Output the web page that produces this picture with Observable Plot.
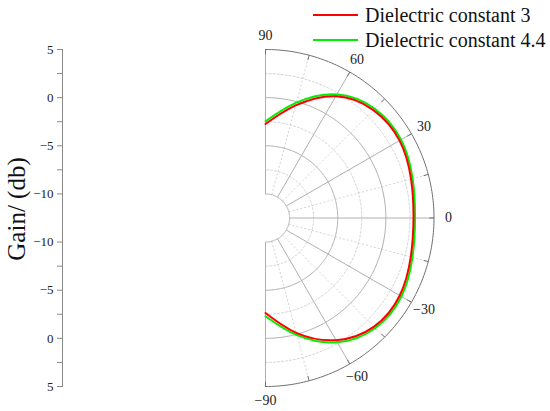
<!DOCTYPE html>
<html><head><meta charset="utf-8">
<script src="https://cdn.jsdelivr.net/npm/d3@7"></script>
<script src="https://cdn.jsdelivr.net/npm/@observablehq/plot@0.6"></script>
<style>
body{margin:0;background:#fff}
#wrap{position:relative;width:550px;height:411px;font-family:"Liberation Serif","Times New Roman",serif}
.leg{position:absolute;left:313px;display:flex;align-items:center;font-size:20px;color:#111;white-space:nowrap}
.leg span.sw{display:inline-block;width:45px;height:2px;margin-right:7px}
</style>
</head><body><div id="wrap"></div>
<script>
// ---- data ----
const angles = [-90, -75, -60, -45, -30, -15, 0, 15, 30, 45, 60, 75, 90];
const gainEps3 = [-2.63, -0.15, 2.15, 3.45, 3.6, 3.12, 2.87, 3.15, 3.58, 3.35, 2.11, -0.4, -2.74];
const gainEps44 = [-2.3, 0.1, 2.4, 3.65, 3.8, 3.3, 3.03, 3.32, 3.76, 3.55, 2.32, -0.1, -2.45];
const seriesNames = ["Dielectric constant 3", "Dielectric constant 4.4"];
const seriesColors = ["#ff0000", "#00ee00"];
const gainTicks = [5, 2.5, 0, -2.5, -5, -7.5, -10];
const gainMajor = [5, 0, -5, -10];
const angleTicks = [-90, -75, -60, -45, -30, -15, 0, 15, 30, 45, 60, 75, 90];
const angleLabels = [-90, -60, -30, 0, 30, 60, 90];
const axisTitle = "Gain/ (db)";

// radial mapping: gain -> radius units (gain -12.5 at the centre, 2.5 dB per unit)
const g0 = -12.5, gStep = 2.5;
const rad = g => (g - g0) / gStep;
const rOuter = rad(5), rInner = rad(-10);
const toRad = a => a * Math.PI / 180;
const fmt = v => (v < 0 ? "\u2212" : "") + Math.abs(v);

const series = [gainEps44, gainEps3].map((vals, k) => vals.map((g, i) => ({
  s: k === 0 ? seriesNames[1] : seriesNames[0],
  x: rad(g) * Math.cos(toRad(angles[i])),
  y: rad(g) * Math.sin(toRad(angles[i]))
}))).flat();

const arcAngles = d3.range(-90, 90.5, 1);
const circles = gainTicks.map(g => arcAngles.map(a => ({
  g, x: rad(g) * Math.cos(toRad(a)), y: rad(g) * Math.sin(toRad(a))
}))).flat();
const solidCircle = g => g % 5 === 0;

const spokes = angleTicks.map(a => ({
  a,
  x1: rInner * Math.cos(toRad(a)), y1: rInner * Math.sin(toRad(a)),
  x2: rOuter * Math.cos(toRad(a)), y2: rOuter * Math.sin(toRad(a))
}));
const ticksOuter = angleTicks.map(a => ({
  x1: rOuter * Math.cos(toRad(a)), y1: rOuter * Math.sin(toRad(a)),
  x2: (rOuter - 0.2) * Math.cos(toRad(a)), y2: (rOuter - 0.2) * Math.sin(toRad(a))
}));
const labelR = rOuter + 0.6;
const labels = angleLabels.map(a => ({
  t: fmt(a), x: labelR * Math.cos(toRad(a)), y: labelR * Math.sin(toRad(a))
}));

const yMajor = gainMajor.flatMap(g => [rad(g), -rad(g)]);
const yMinor = gainTicks.filter(g => !gainMajor.includes(g)).flatMap(g => [rad(g), -rad(g)]);
const yFormat = y => fmt(Math.abs(y) * gStep + g0);

const cx = 265, pxPerUnit = 337 / 14;

const chart = Plot.plot({
  width: 550, height: 411,
  marginLeft: 62, marginTop: 49, marginBottom: 25, marginRight: 10,
  style: {fontFamily: "'Liberation Serif', 'Times New Roman', serif", background: "#fff", overflow: "visible"},
  x: {domain: [0, rOuter], range: [cx, cx + rOuter * pxPerUnit], axis: null},
  y: {domain: [-rOuter, rOuter], axis: null},
  color: {domain: seriesNames, range: seriesColors},
  marks: [
    Plot.line(circles.filter(d => !solidCircle(d.g)), {x: "x", y: "y", z: "g", stroke: "#c8c8c8", strokeWidth: 0.8, strokeDasharray: "2,2"}),
    Plot.link(spokes.filter(d => Math.abs(d.a) !== 90 && d.a % 30 !== 0), {x1: "x1", y1: "y1", x2: "x2", y2: "y2", stroke: "#c8c8c8", strokeWidth: 0.8, strokeDasharray: "2,2"}),
    Plot.line(circles.filter(d => solidCircle(d.g) && d.g !== 5), {x: "x", y: "y", z: "g", stroke: "#b0b0b0", strokeWidth: 1}),
    Plot.link(spokes.filter(d => d.a % 30 === 0), {x1: "x1", y1: "y1", x2: "x2", y2: "y2", stroke: "#b0b0b0", strokeWidth: 1}),
    Plot.line(circles.filter(d => d.g === 5), {x: "x", y: "y", stroke: "#707070", strokeWidth: 1}),
    Plot.link(ticksOuter, {x1: "x1", y1: "y1", x2: "x2", y2: "y2", stroke: "#707070", strokeWidth: 1}),
    Plot.line(series, {x: "x", y: "y", z: "s", stroke: "s", strokeWidth: 2, curve: "natural"}),
    Plot.text(labels, {x: "x", y: "y", text: "t", fontSize: 14, fill: "#222", textAnchor: "middle"}),
    Plot.frame({anchor: "left", stroke: "#8a8a8a"}),
    Plot.axisY({ticks: yMajor, tickFormat: yFormat, tickSize: 5, fontSize: 13, color: "#222", stroke: "#8a8a8a", label: null}),
    Plot.axisY({ticks: yMinor, tickFormat: () => "", tickSize: 5, stroke: "#8a8a8a", label: null}),
    Plot.text([axisTitle], {frameAnchor: "left", rotate: -90, dx: -46, dy: -9, fontSize: 25, fill: "#111", textAnchor: "middle", lineAnchor: "middle"})
  ]
});

const wrap = document.getElementById("wrap");
wrap.appendChild(chart);
seriesNames.forEach((name, i) => {
  const div = document.createElement("div");
  div.className = "leg";
  div.style.top = (3 + i * 25) + "px";
  div.style.height = "24px";
  const sw = document.createElement("span");
  sw.className = "sw";
  sw.style.background = seriesColors[i];
  const tx = document.createElement("span");
  tx.textContent = name;
  div.appendChild(sw); div.appendChild(tx);
  wrap.appendChild(div);
});
</script>
</body></html>
